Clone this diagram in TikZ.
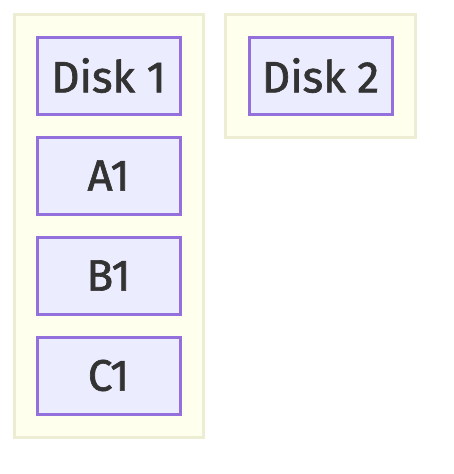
\documentclass[tikz,border=0pt]{standalone}
\usepackage{fontspec}
\setmainfont{Fira Sans}
\newfontfamily\nodefont{Fira Sans}[FakeBold=1.5]
\definecolor{clfill}{HTML}{FFFFEE}
\definecolor{cldraw}{HTML}{EDEDD3}
\definecolor{ndfill}{HTML}{ECECFF}
\definecolor{nddraw}{HTML}{9370DB}
\definecolor{txt}{HTML}{333333}
\tikzset{
  cluster/.style={fill=clfill, draw=cldraw, line width=3pt},
  diskbox/.style={fill=ndfill, draw=nddraw, line width=3pt, minimum width=143pt, minimum height=77pt, inner sep=0pt, text=txt, font=\nodefont\fontsize{44}{50}\selectfont, anchor=center}
}
\begin{document}
\begin{tikzpicture}[x=1pt,y=-1pt]
\useasboundingbox (0,0) rectangle (453,474);
\draw[cluster] (14,14) rectangle (203,437);
\draw[cluster] (225,14) rectangle (415,137);
\node[diskbox] (d1) at (108.5,75.5) {Disk 1};
\node[diskbox] (a1) at (108.5,175.5) {A1};
\node[diskbox] (b1) at (108.5,275.5) {B1};
\node[diskbox] (c1) at (108.5,375.5) {C1};
\node[diskbox] (d2) at (320.5,75.5) {Disk 2};
\end{tikzpicture}
\end{document}
